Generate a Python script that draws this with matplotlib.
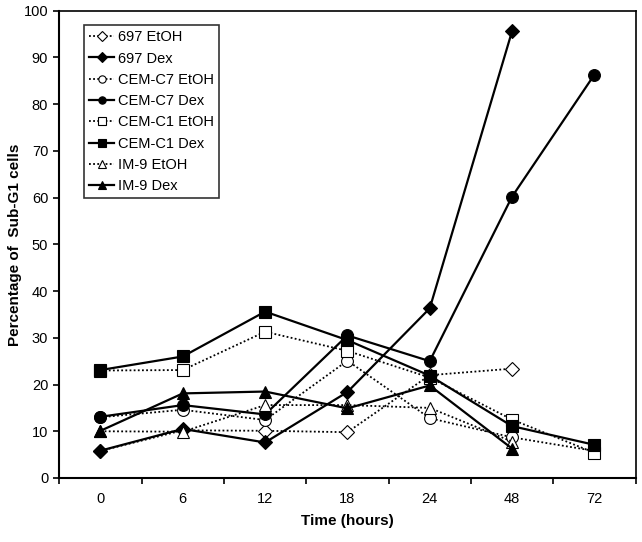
import matplotlib.pyplot as plt
import numpy as np

plt.rcParams['font.family'] = ['Liberation Sans', 'DejaVu Sans']

time_labels = ['0', '6', '12', '18', '24', '48', '72']

series_names = ['697 EtOH', '697 Dex', 'CEM-C7 EtOH', 'CEM-C7 Dex',
                'CEM-C1 EtOH', 'CEM-C1 Dex', 'IM-9 EtOH', 'IM-9 Dex']

v697_etoh = [5.8, 10.2, 10.1, 9.8, 22.0, 23.4]
v697_dex = [5.85, 10.5, 7.6, 18.4, 36.3, 95.6]
cemc7_etoh = [13.0, 14.6, 12.4, 25.1, 12.8, 8.7, 5.8]
cemc7_dex = [13.1, 15.6, 13.6, 30.5, 25.0, 60.2, 86.3]
cemc1_etoh = [23.0, 23.1, 31.3, 27.2, 21.5, 12.5, 5.4]
cemc1_dex = [23.1, 26.0, 35.6, 29.5, 21.9, 11.1, 7.1]
im9_etoh = [10.0, 9.9, 15.6, 15.6, 15.0, 7.8]
im9_dex = [10.1, 18.1, 18.5, 14.9, 19.8, 6.3]

values = [v697_etoh, v697_dex, cemc7_etoh, cemc7_dex,
          cemc1_etoh, cemc1_dex, im9_etoh, im9_dex]
markers = ['D', 'D', 'o', 'o', 's', 's', '^', '^']

dotted = (0, (1, 1.3))

fig = plt.figure(figsize=(6.42, 5.42), dpi=100)
ax = fig.add_axes([0.0924, 0.1181, 0.8975, 0.8622])

for name, vals, mk in zip(series_names, values, markers):
    x = np.arange(len(vals))
    is_etoh = 'EtOH' in name
    ax.plot(x, vals,
            linestyle=dotted if is_etoh else '-',
            linewidth=1.3 if is_etoh else 1.6,
            color='black',
            marker=mk,
            markersize=8.5 if mk != 'D' else 7.5,
            markerfacecolor='white' if is_etoh else 'black',
            markeredgecolor='black',
            markeredgewidth=0.8,
            label=name)

ax.set_xlim(-0.5, 6.5)
ax.set_ylim(0, 100)
ax.set_yticks(np.arange(0, 101, 10))
ax.set_xticks(np.arange(-0.5, 7, 1))
ax.set_xticklabels([])
ax.set_xticks(np.arange(len(time_labels)), minor=True)
ax.set_xticklabels(time_labels, minor=True)
ax.tick_params(axis='x', which='major', direction='out', length=4, width=1.2)
ax.tick_params(axis='x', which='minor', length=0, pad=10, labelsize=10.5)
ax.tick_params(axis='y', direction='out', length=4.5, width=1.2, labelsize=10.5)

for side in ['left', 'bottom']:
    ax.spines[side].set_linewidth(1.5)
for side in ['top', 'right']:
    ax.spines[side].set_linewidth(1.2)

ax.set_xlabel('Time (hours)', fontsize=11, fontweight='bold', labelpad=6)
ax.set_ylabel('Percentage of  Sub-G1 cells', fontsize=11, fontweight='bold', labelpad=1)

leg = ax.legend(loc='upper left', bbox_to_anchor=(0.043, 0.969),
                fontsize=10.5, frameon=True, fancybox=False,
                edgecolor='black', handlelength=1.7, handletextpad=0.25,
                labelspacing=0.5, borderpad=0.35, borderaxespad=0,
                markerscale=0.62)
leg.get_frame().set_linewidth(1.2)

fig.savefig('out.png', dpi=100)
